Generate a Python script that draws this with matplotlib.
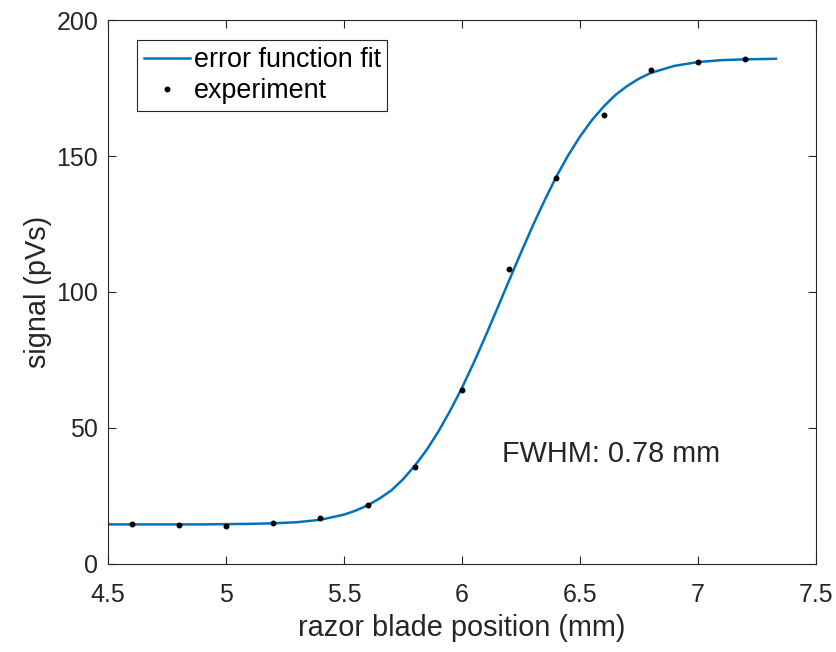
import matplotlib
matplotlib.use('Agg')
import matplotlib.pyplot as plt

plt.rcParams['font.family'] = ['Liberation Sans', 'DejaVu Sans']

# measured points
pos = [4.6, 4.8, 5.0, 5.2, 5.4, 5.6, 5.8, 6.0, 6.2, 6.4, 6.6, 6.8, 7.0, 7.2]
sig = [14.6, 14.1, 13.7, 15.0, 16.8, 21.4, 35.6, 63.8, 108.6, 141.8, 165.0, 181.6, 184.6, 185.6]

# fitted curve
fit_x = [4.5, 4.7, 4.9, 5.0, 5.1, 5.2, 5.3, 5.4, 5.5, 5.55, 5.6, 5.65, 5.7, 5.75,
         5.8, 5.85, 5.9, 5.95, 6.0, 6.05, 6.1, 6.15, 6.2, 6.25, 6.3, 6.35, 6.4,
         6.45, 6.5, 6.55, 6.6, 6.65, 6.7, 6.75, 6.8, 6.9, 7.0, 7.1, 7.2, 7.33]
fit_y = [14.4, 14.4, 14.4, 14.5, 14.6, 14.8, 15.2, 16.1, 18.0, 19.5, 21.4, 23.9,
         26.9, 31.0, 36.0, 41.8, 48.6, 56.3, 64.7, 74.0, 83.8, 94.0, 104.3, 114.5,
         124.4, 133.7, 142.5, 150.3, 157.2, 163.2, 168.2, 172.5, 175.8, 178.5,
         180.6, 183.2, 184.6, 185.3, 185.6, 185.8]

fig = plt.figure(figsize=(8.37, 6.52), dpi=100)
ax = fig.add_axes([0.129, 0.1357, 0.846, 0.8333])

ax.plot(fit_x, fit_y, color='#0072BD', lw=1.8, label='error function fit')
ax.plot(pos, sig, 'k.', ms=6.5, label='experiment')

ax.set_xlim(4.5, 7.5)
ax.set_ylim(0, 200)
ax.set_xticks([4.5, 5, 5.5, 6, 6.5, 7, 7.5])
ax.set_xticklabels(['4.5', '5', '5.5', '6', '6.5', '7', '7.5'])
ax.set_yticks([0, 50, 100, 150, 200])

for s in ax.spines.values():
    s.set_color('#262626')
    s.set_linewidth(0.8)
ax.tick_params(direction='in', length=6, width=0.8, colors='#262626',
               labelsize=18, top=True, right=True, pad=7)
ax.tick_params(axis='x', pad=14)

ax.set_xlabel('razor blade position (mm)', fontsize=20.8, color='#262626', labelpad=5)
ax.set_ylabel('signal (pVs)', fontsize=20.8, color='#262626', labelpad=3)

ax.text(6.17, 37.5, 'FWHM: 0.78 mm', fontsize=20.8, color='#262626')

leg = ax.legend(loc='upper left', bbox_to_anchor=(0.041, 0.963), fontsize=19.4,
                fancybox=False, framealpha=1, edgecolor='#262626',
                handlelength=1.7, borderpad=0.25, labelspacing=0.2,
                handletextpad=0.15, borderaxespad=0)
leg.get_frame().set_linewidth(0.8)

fig.savefig('out.png', dpi=100)
